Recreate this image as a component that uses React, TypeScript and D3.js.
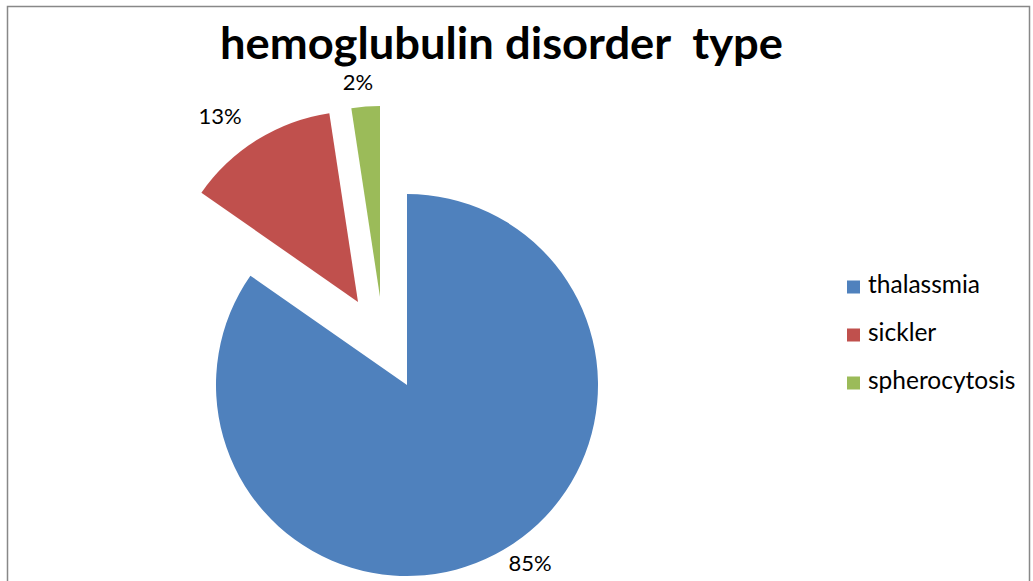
import React from "react";
import * as d3 from "d3";

const categories = ["thalassmia", "sickler", "spherocytosis"];
const values = [84.7, 12.9, 2.4];
const labels = ["85%", "13%", "2%"];
const colors = ["#4F81BD", "#C0504D", "#9BBB59"];
const title = "hemoglubulin disorder  type";

// styling: slice explosion offsets and label positions
const offsets: [number, number][] = [[0, 0], [-49, -83], [-27, -88]];
const labelPos: [number, number][] = [[530, 565], [220, 118], [358, 84]];

export default function App() {
  const W = 1033, H = 581;
  const cx = 407, cy = 385, r = 191;
  const pie = d3.pie<number>().sort(null).value(d => d);
  const arcs = pie(values);
  const arc = d3.arc<d3.PieArcDatum<number>>().innerRadius(0).outerRadius(r);
  const font = "Lato, 'Open Sans', sans-serif";
  return (
    <svg width={W} height={H} style={{ position: "absolute", left: 0, top: 0 }}>
      <rect x={0} y={0} width={W} height={H} fill="#fff" />
      <path d={`M7.5,${H} L7.5,6.5 L1029.5,6.5 L1029.5,${H}`} fill="none" stroke="#888" strokeWidth={1.5} />
      <text x={220} y={59} textLength={563} lengthAdjust="spacingAndGlyphs" fontFamily={font} fontWeight="bold" fontSize={43} fill="#000" style={{ whiteSpace: "pre" }}>{title}</text>
      {arcs.map((a, i) => (
        <path key={i} d={arc(a) || ""} fill={colors[i]}
          transform={`translate(${cx + offsets[i][0]},${cy + offsets[i][1]})`} />
      ))}
      {labels.map((l, i) => (
        <text key={i} x={labelPos[i][0]} y={labelPos[i][1]} textAnchor="middle" dominantBaseline="middle"
          fontFamily={font} fontSize={22} fill="#000">{l}</text>
      ))}
      {categories.map((c, i) => (
        <g key={c} transform={`translate(847,${287 + i * 48})`}>
          <rect x={0} y={-6.5} width={13} height={13} fill={colors[i]} />
          <text x={21} y={0} dominantBaseline="middle" fontFamily={font} fontSize={24.5} fill="#000">{c}</text>
        </g>
      ))}
    </svg>
  );
}
